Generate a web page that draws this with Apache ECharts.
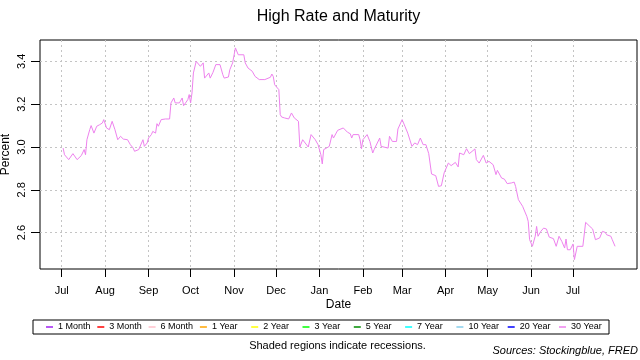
<!DOCTYPE html>
<html><head><meta charset="utf-8">
<script src="https://cdn.jsdelivr.net/npm/echarts@6/dist/echarts.min.js"></script>
<style>html,body{margin:0;padding:0;background:#fff}#c{width:640px;height:360px}</style>
</head><body><div id="c"></div>
<script>
const dates = [
'2018-07-02','2018-07-03','2018-07-06','2018-07-09','2018-07-12','2018-07-15','2018-07-17','2018-07-18','2018-07-19','2018-07-21',
'2018-07-22','2018-07-24','2018-07-26','2018-07-27','2018-07-28','2018-07-30','2018-07-31','2018-08-02','2018-08-04','2018-08-06',
'2018-08-07','2018-08-08','2018-08-10','2018-08-12','2018-08-13','2018-08-14','2018-08-17','2018-08-19','2018-08-21','2018-08-22',
'2018-08-23','2018-08-25','2018-08-26','2018-08-28','2018-08-29','2018-08-31','2018-09-01','2018-09-03','2018-09-04','2018-09-06',
'2018-09-07','2018-09-08','2018-09-10','2018-09-11','2018-09-13','2018-09-16','2018-09-17','2018-09-19','2018-09-20','2018-09-23',
'2018-09-25','2018-09-26','2018-09-27','2018-09-29','2018-09-30','2018-10-01','2018-10-02','2018-10-03','2018-10-05','2018-10-06',
'2018-10-08','2018-10-10','2018-10-11','2018-10-12','2018-10-14','2018-10-15','2018-10-17','2018-10-19','2018-10-22','2018-10-24',
'2018-10-25','2018-10-28','2018-10-29','2018-10-31','2018-11-02','2018-11-04','2018-11-08','2018-11-09','2018-11-11','2018-11-14',
'2018-11-15','2018-11-16','2018-11-19','2018-11-23','2018-11-27','2018-11-28','2018-11-29','2018-11-30','2018-12-03','2018-12-04',
'2018-12-05','2018-12-07','2018-12-10','2018-12-12','2018-12-14','2018-12-17','2018-12-18','2018-12-20','2018-12-24','2018-12-26',
'2018-12-29','2018-12-31','2019-01-02','2019-01-03','2019-01-04','2019-01-06','2019-01-08','2019-01-10','2019-01-11','2019-01-14',
'2019-01-18','2019-01-21','2019-01-23','2019-01-24','2019-01-25','2019-01-29','2019-01-30','2019-01-31','2019-02-01','2019-02-04',
'2019-02-06','2019-02-08','2019-02-09','2019-02-13','2019-02-14','2019-02-19','2019-02-20','2019-02-22','2019-02-25','2019-02-26',
'2019-03-01','2019-03-03','2019-03-05','2019-03-08','2019-03-10','2019-03-12','2019-03-14','2019-03-16','2019-03-18','2019-03-20',
'2019-03-22','2019-03-25','2019-03-27','2019-03-29','2019-03-31','2019-04-03','2019-04-05','2019-04-08','2019-04-10','2019-04-11',
'2019-04-14','2019-04-16','2019-04-18','2019-04-19','2019-04-22','2019-04-23','2019-04-25','2019-04-28','2019-04-30','2019-05-02',
'2019-05-05','2019-05-07','2019-05-08','2019-05-11','2019-05-13','2019-05-15','2019-05-18','2019-05-20','2019-05-21','2019-05-23',
'2019-05-26','2019-05-29','2019-05-30','2019-05-31','2019-06-02','2019-06-04','2019-06-05','2019-06-06','2019-06-08','2019-06-10',
'2019-06-12','2019-06-14','2019-06-17','2019-06-19','2019-06-21','2019-06-23','2019-06-25','2019-06-26','2019-06-27','2019-06-29',
'2019-07-01','2019-07-02','2019-07-04','2019-07-08','2019-07-10','2019-07-13','2019-07-15','2019-07-17','2019-07-20','2019-07-22',
'2019-07-24','2019-07-25','2019-07-28','2019-07-29','2019-07-31'
];
const rates30Year = [
2.995,2.964,2.941,2.969,2.941,2.960,2.988,2.964,3.034,3.081,
3.100,3.065,3.097,3.089,3.104,3.112,3.128,3.089,3.081,3.120,
3.120,3.081,3.034,3.050,3.058,3.037,3.034,3.011,2.995,2.980,
2.972,2.988,2.995,3.034,3.003,3.019,3.042,3.058,3.073,3.065,
3.109,3.097,3.128,3.120,3.131,3.131,3.206,3.229,3.206,3.206,
3.229,3.193,3.198,3.221,3.245,3.206,3.252,3.346,3.400,3.393,
3.377,3.393,3.322,3.322,3.346,3.322,3.349,3.385,3.385,3.338,
3.322,3.327,3.361,3.393,3.463,3.431,3.431,3.393,3.369,3.354,
3.361,3.330,3.315,3.315,3.326,3.341,3.330,3.291,3.268,3.151,
3.140,3.136,3.131,3.159,3.136,3.120,3.000,3.034,3.000,3.058,
3.034,3.011,2.964,2.921,2.988,2.995,3.003,3.058,3.042,3.078,
3.089,3.069,3.062,3.042,3.058,3.058,3.034,2.992,3.034,3.058,
3.026,2.972,2.988,3.042,3.003,2.995,3.050,3.026,3.026,3.084,
3.128,3.097,3.065,3.003,3.019,3.011,3.042,3.011,3.011,2.969,
2.874,2.866,2.816,2.819,2.879,2.925,2.913,2.928,2.907,2.972,
2.964,2.992,2.969,2.977,2.991,2.941,2.925,2.961,2.925,2.933,
2.917,2.871,2.891,2.855,2.850,2.829,2.832,2.836,2.816,2.754,
2.723,2.676,2.653,2.567,2.536,2.583,2.629,2.583,2.606,2.621,
2.617,2.579,2.572,2.536,2.583,2.559,2.528,2.570,2.520,2.520,
2.547,2.474,2.536,2.536,2.648,2.629,2.617,2.567,2.575,2.606,
2.601,2.590,2.583,2.567,2.536
];
const monthTicks = ['2018-07-01','2018-08-01','2018-09-01','2018-10-01','2018-11-01','2018-12-01','2019-01-01','2019-02-01','2019-03-01','2019-04-01','2019-05-01','2019-06-01','2019-07-01'];
const monthLabels = ['Jul','Aug','Sep','Oct','Nov','Dec','Jan','Feb','Mar','Apr','May','Jun','Jul'];
const yTicks = [2.6, 2.8, 3.0, 3.2, 3.4];
const seriesNames = ['1 Month','3 Month','6 Month','1 Year','2 Year','3 Year','5 Year','7 Year','10 Year','20 Year','30 Year'];
const seriesColors = ['#A020F0','#FF0000','#FFC0CB','#FFA500','#FFFF00','#00FF00','#008B00','#00FFFF','#87CEEB','#0000FF','#EE82EE'];

function ts(s){ const p = s.split('-').map(Number); return Date.UTC(p[0], p[1]-1, p[2]); }
const tickTs = monthTicks.map(ts);
const xMin = Date.UTC(2018, 5, 15, 12);
const xMax = Date.UTC(2019, 7, 15, 16);

const series = seriesNames.map((n, i) => ({
  name: n, type: 'line', symbol: 'none', animation: false,
  lineStyle: {color: seriesColors[i], width: 1},
  itemStyle: {color: seriesColors[i]},
  data: n === '30 Year' ? dates.map((d, j) => [ts(d), rates30Year[j]]) : []
}));

const font = 'Liberation Sans, Arial, sans-serif';
const chart = echarts.init(document.getElementById('c'), null, {renderer: 'canvas'});
chart.setOption({
  backgroundColor: '#fff',
  animation: false,
  textStyle: {fontFamily: font},
  grid: {left: 40, top: 40, width: 597, height: 229, show: true, borderColor: '#000', borderWidth: 1, containLabel: false, outerBoundsMode: 'none'},
  xAxis: {
    type: 'value', min: xMin, max: xMax, scale: true,
    name: 'Date', nameLocation: 'middle', nameGap: 30, nameMoveOverlap: false,
    nameTextStyle: {fontSize: 12, color: '#000', fontFamily: font},
    axisLine: {show: false},
    axisTick: {show: true, customValues: tickTs, length: 8, lineStyle: {color: '#000'}},
    axisLabel: {customValues: tickTs, fontSize: 11, color: '#000', margin: 16, fontFamily: font,
      formatter: v => { const i = tickTs.indexOf(v); return i >= 0 ? monthLabels[i] : ''; }},
    splitLine: {show: true, lineStyle: {color: '#c4c4c4', type: [2, 3], width: 1}}
  },
  yAxis: {
    type: 'value', min: 2.43, max: 3.50, scale: true,
    name: 'Percent', nameLocation: 'middle', nameGap: 28, nameMoveOverlap: false,
    nameTextStyle: {fontSize: 12, color: '#000', fontFamily: font},
    axisLine: {show: false},
    axisTick: {show: true, customValues: yTicks, length: 9, lineStyle: {color: '#000'}},
    axisLabel: {customValues: yTicks, rotate: 90, fontSize: 11, color: '#000', margin: 13, fontFamily: font,
      formatter: v => v.toFixed(1)},
    splitLine: {show: true, lineStyle: {color: '#c4c4c4', type: [2, 3], width: 1}}
  },
  legend: {
    left: 33, top: 320, orient: 'horizontal',
    data: seriesNames,
    icon: 'rect', itemWidth: 7, itemHeight: 1.5, itemGap: 3.3,
    padding: [2, 2, 2, 13],
    borderColor: '#000', borderWidth: 1,
    textStyle: {fontSize: 9, color: '#000', width: 36, lineHeight: 10, fontFamily: font},
    selectedMode: false
  },
  graphic: [
    {type: 'text', x: 338.5, y: 17, style: {text: 'High Rate and Maturity', font: '16px ' + font, fill: '#000', align: 'center', verticalAlign: 'middle'}},
    {type: 'text', x: 337.5, y: 346, style: {text: 'Shaded regions indicate recessions.', font: '11px ' + font, fill: '#000', align: 'center', verticalAlign: 'middle'}},
    {type: 'text', x: 638, y: 351, style: {text: 'Sources: Stockingblue, FRED', font: 'italic 11px ' + font, fill: '#000', align: 'right', verticalAlign: 'middle'}}
  ],
  series: series
});
</script>
</body></html>
